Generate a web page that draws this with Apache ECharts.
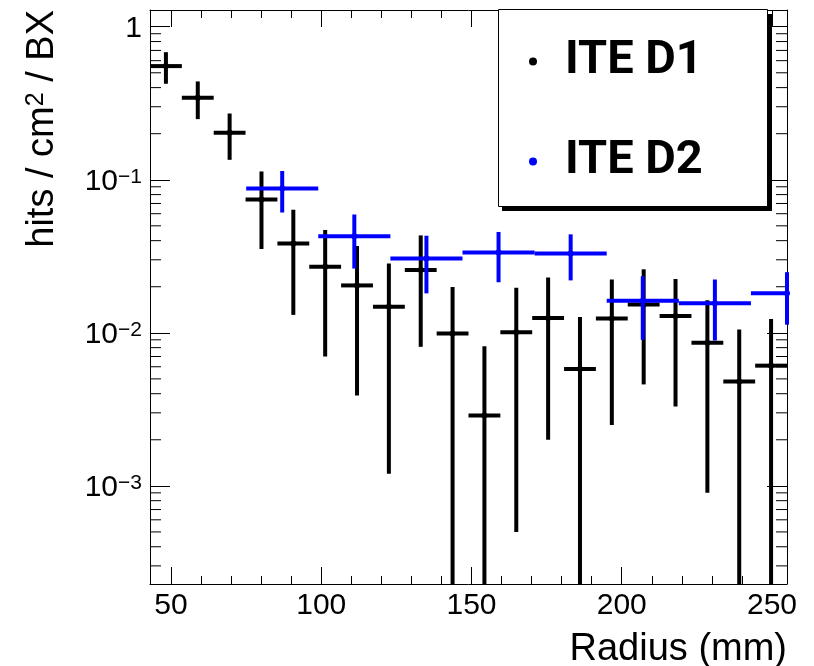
<!DOCTYPE html>
<html>
<head>
<meta charset="utf-8">
<script src="https://cdn.jsdelivr.net/npm/echarts@6/dist/echarts.min.js"></script>
<style>
html,body{margin:0;padding:0;background:#fff;}
#chart{width:814px;height:666px;}
</style>
</head>
<body>
<div id="chart"></div>
<script>
// ---- data ----
const d1Name = 'ITE D1';
const d2Name = 'ITE D2';
const d1X = [48.3, 58.9, 69.5, 80.1, 90.7, 101.3, 111.9, 122.5, 133.1, 143.7, 154.3, 164.9, 175.5, 186.1, 196.7, 207.3, 217.9, 228.5, 239.1, 249.7];
const d1Y = [0.553, 0.344, 0.203, 0.0743, 0.0384, 0.0270, 0.0204, 0.0148, 0.0257, 0.0099, 0.00288, 0.0101, 0.0125, 0.0058, 0.0124, 0.0153, 0.0129, 0.0086, 0.0048, 0.0061];
const d1Err = [0.129, 0.095, 0.068, 0.039, 0.0253, 0.0200, 0.0165, 0.0136, 0.0176, 0.0100, 0.0053, 0.0096, 0.0105, 0.0069, 0.0099, 0.0107, 0.0096, 0.0077, 0.0057, 0.0062];
const d1HalfWidth = 5.3;
const d2X = [87, 111, 135, 159, 183, 207, 231, 255];
const d2Y = [0.0876, 0.0428, 0.0306, 0.0335, 0.0330, 0.0162, 0.0156, 0.0181];
const d2Err = [0.0265, 0.0165, 0.0125, 0.0121, 0.0110, 0.0072, 0.0067, 0.0068];
const d2HalfWidth = 12;
const xMin = 43, xMax = 255;
const yMin = 2.284e-4, yMax = 1.286;
const xTitle = 'Radius (mm)';
const yTitle = 'hits / cm{sup|2} / BX';
const minorMult = [2, 3, 4, 5, 6, 7, 8, 9];
const decades = [-4, -3, -2, -1, 0];

const minorVals = [];
decades.forEach(n => minorMult.forEach(k => {
  const v = k * Math.pow(10, n);
  if (v > yMin && v < yMax) minorVals.push([xMin, v]);
}));

function errRender(color, lw, r) {
  return function (params, api) {
    const x = api.value(0), y = api.value(1), e = api.value(2), hw = api.value(3);
    const x0 = Math.max(x - hw, xMin), x1 = Math.min(x + hw, xMax);
    const lo = Math.max(y - e, yMin), hi = Math.min(y + e, yMax);
    const pL = api.coord([x0, y]), pR = api.coord([x1, y]), pC = api.coord([x, y]);
    const pLo = api.coord([x, lo]), pHi = api.coord([x, hi]);
    return {
      type: 'group',
      children: [
        {type: 'line', shape: {x1: pL[0], y1: pL[1], x2: pR[0], y2: pR[1]}, style: {stroke: color, lineWidth: lw}},
        {type: 'line', shape: {x1: pLo[0], y1: pLo[1], x2: pHi[0], y2: pHi[1]}, style: {stroke: color, lineWidth: lw}},
        {type: 'circle', shape: {cx: pC[0], cy: pC[1], r: r}, style: {fill: color}}
      ]
    };
  };
}

function minorRender(params, api) {
  const v = api.value(1);
  const pL = api.coord([xMin, v]);
  const pR = api.coord([xMax, v]);
  return {
    type: 'group',
    children: [
      {type: 'line', shape: {x1: pL[0], y1: pL[1], x2: pL[0] + 11, y2: pL[1]}, style: {stroke: '#000', lineWidth: 1}},
      {type: 'line', shape: {x1: pR[0], y1: pR[1], x2: pR[0] - 11, y2: pR[1]}, style: {stroke: '#000', lineWidth: 1}}
    ]
  };
}

function yFmt(v) {
  const l = Math.log10(v);
  const n = Math.round(l);
  if (Math.abs(l - n) > 1e-6) return '';
  if (n === 0) return '1';
  return '10{sup|\u2212' + (-n) + '}';
}

const labelFont = 'Liberation Sans';
const axisLineStyle = {show: true, lineStyle: {color: '#000', width: 1}};

const chart = echarts.init(document.getElementById('chart'), null, {renderer: 'canvas'});
chart.setOption({
  animation: false,
  backgroundColor: '#fff',
  grid: {left: 150, top: 10, width: 637, height: 574, containLabel: false},
  legend: {
    left: 498, top: 10, orient: 'vertical', icon: 'circle',
    itemWidth: 54, itemHeight: 8, itemGap: 53,
    padding: [28, 20, 24, 31],
    backgroundColor: 'transparent', borderWidth: 0,
    textStyle: {fontFamily: 'Roboto', fontWeight: 'bold', fontSize: 47, color: '#000'},
    data: [d1Name, d2Name],
    selectedMode: false, z: 10
  },
  xAxis: [
    {
      type: 'value', position: 'bottom', min: xMin, max: xMax,
      axisLine: axisLineStyle,
      axisTick: {show: true, inside: true, length: 17, lineStyle: {color: '#000'}},
      minorTick: {show: true, splitNumber: 5, length: 8, lineStyle: {color: '#000'}},
      splitLine: {show: false},
      axisLabel: {show: true, margin: 7, fontFamily: labelFont, fontSize: 30, color: '#000', showMinLabel: false, showMaxLabel: false}
    },
    {
      type: 'value', position: 'top', min: xMin, max: xMax,
      axisLine: axisLineStyle,
      axisTick: {show: true, inside: true, length: 17, lineStyle: {color: '#000'}},
      minorTick: {show: true, splitNumber: 5, length: 8, lineStyle: {color: '#000'}},
      splitLine: {show: false},
      axisLabel: {show: false}
    }
  ],
  yAxis: [
    {
      type: 'log', logBase: 10, position: 'left', min: yMin, max: yMax,
      axisLine: axisLineStyle,
      axisTick: {show: true, inside: true, length: 20, lineStyle: {color: '#000'}},
      splitLine: {show: false},
      axisLabel: {
        show: true, margin: 8, fontFamily: labelFont, fontSize: 30, color: '#000',
        padding: [4, 0, 0, 0],
        showMinLabel: false, showMaxLabel: false,
        formatter: yFmt,
        rich: {sup: {fontFamily: labelFont, fontSize: 21, verticalAlign: 'top', color: '#000'}}
      }
    },
    {
      type: 'log', logBase: 10, position: 'right', min: yMin, max: yMax,
      axisLine: axisLineStyle,
      axisTick: {show: true, inside: true, length: 20, lineStyle: {color: '#000'}},
      splitLine: {show: false},
      axisLabel: {show: false}
    }
  ],
  graphic: [
    {
      type: 'rect', z: 8, silent: true,
      shape: {x: 502, y: 14, width: 270, height: 197},
      style: {fill: '#000'}
    },
    {
      type: 'rect', z: 9, silent: true,
      shape: {x: 498.5, y: 9.5, width: 269, height: 197},
      style: {fill: '#fff', stroke: '#000', lineWidth: 1}
    },
    {
      type: 'text', x: 43, y: 10, rotation: Math.PI / 2,
      style: {
        text: yTitle, align: 'right', verticalAlign: 'middle',
        fontFamily: labelFont, fontSize: 38, fill: '#000',
        rich: {sup: {fontFamily: labelFont, fontSize: 25, verticalAlign: 'top', fill: '#000'}}
      }
    },
    {
      type: 'text', x: 787, y: 650,
      style: {text: xTitle, align: 'right', verticalAlign: 'middle', fontFamily: labelFont, fontSize: 38, fill: '#000'}
    }
  ],
  series: [
    {
      type: 'custom', name: 'minor', xAxisIndex: 0, yAxisIndex: 0, silent: true,
      renderItem: minorRender, data: minorVals, encode: {x: 0, y: 1}, clip: false
    },
    {
      type: 'custom', name: d1Name, xAxisIndex: 0, yAxisIndex: 0,
      itemStyle: {color: '#000'},
      renderItem: errRender('#000', 4, 3),
      data: d1X.map((x, i) => [x, d1Y[i], d1Err[i], d1HalfWidth]),
      encode: {x: 0, y: 1}, clip: false, z: 3
    },
    {
      type: 'custom', name: d2Name, xAxisIndex: 0, yAxisIndex: 0,
      itemStyle: {color: '#0000ff'},
      renderItem: errRender('#0000ff', 4, 3),
      data: d2X.map((x, i) => [x, d2Y[i], d2Err[i], d2HalfWidth]),
      encode: {x: 0, y: 1}, clip: false, z: 4
    }
  ]
});
</script>
</body>
</html>
